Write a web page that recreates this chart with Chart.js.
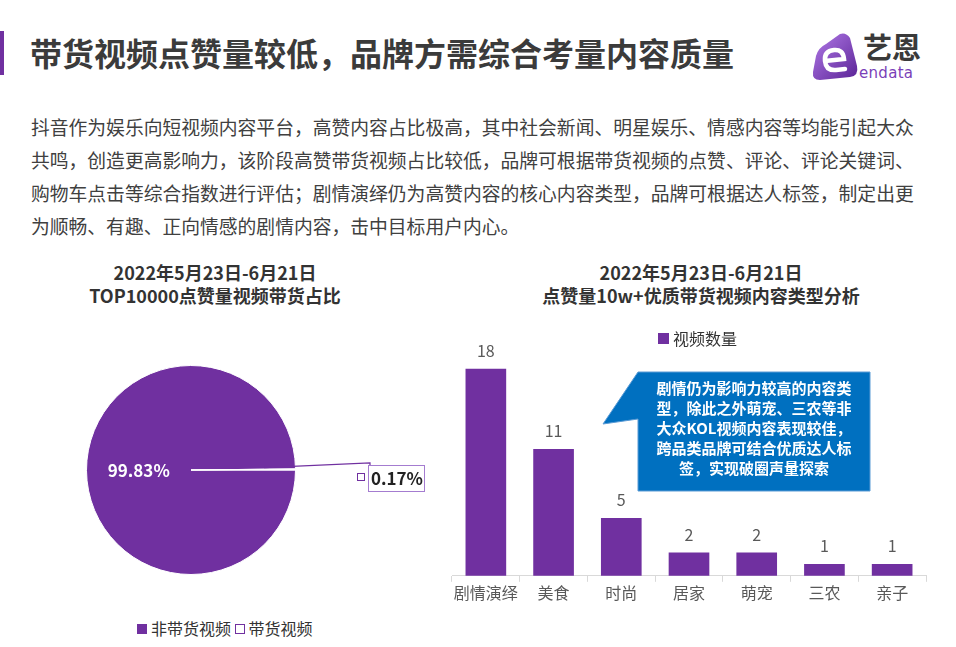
<!DOCTYPE html>
<html><head><meta charset="utf-8">
<script src="https://cdn.jsdelivr.net/npm/chart.js@4"></script>
<style>
html,body{margin:0;padding:0;background:#fff;}
body{width:956px;height:647px;position:relative;overflow:hidden;font-family:"Noto Sans CJK SC","Noto Sans",sans-serif;}
.abs{position:absolute;}
#bar{left:0;top:31px;width:4px;height:44px;background:#7030A0;}
#title{left:30px;top:30px;font-size:32px;font-weight:700;color:#3b3b3b;line-height:44px;white-space:nowrap;letter-spacing:0px;}
#para{left:31px;top:110px;font-size:18.8px;color:#404040;line-height:33px;white-space:nowrap;}
.ctitle{font-size:18px;font-weight:700;color:#333;line-height:23px;text-align:center;white-space:nowrap;}
#lt{left:15px;top:261px;width:400px;}
#rt{left:501px;top:261px;width:400px;}
.leg{font-size:16px;color:#333;white-space:nowrap;line-height:20px;}
.sq{display:inline-block;width:10px;height:10px;vertical-align:middle;margin-right:4px;position:relative;top:-2px;box-sizing:border-box;}
#ctext{left:638px;top:378px;width:232px;text-align:center;color:#fff;font-weight:700;font-size:15px;line-height:20px;white-space:nowrap;}
#logotxt{left:863px;top:27px;font-size:29px;font-weight:700;color:#3a3a3a;line-height:38px;letter-spacing:0px;}
#logoen{left:859px;top:64px;font-size:15px;color:#7a3fb8;line-height:18px;font-family:"DejaVu Sans",sans-serif;letter-spacing:0.3px;}
</style></head>
<body>
<div id="bar" class="abs"></div>
<div id="title" class="abs">带货视频点赞量较低，品牌方需综合考量内容质量</div>

<svg class="abs" style="left:810px;top:30px" width="50" height="52" viewBox="0 0 50 52">
 <defs><linearGradient id="lg" x1="0" y1="0" x2="1" y2="1">
  <stop offset="0" stop-color="#b27ae8"/><stop offset="1" stop-color="#5a2396"/></linearGradient></defs>
 <path d="M30 4 Q36 2 40 8 L47 36 Q49 46 40 47 L10 50 Q2 50 3 42 L6 26 Q8 18 16 14 Z" fill="url(#lg)"/>
 <path d="M15 31 L34 29 Q33 19 24 20 Q14 21 15 31 Q16 41 26 40 L35 39" fill="none" stroke="#fff" stroke-width="4.5" stroke-linecap="round"/>
</svg>
<div id="logotxt" class="abs">艺恩</div>
<div id="logoen" class="abs">endata</div>

<div id="para" class="abs">抖音作为娱乐向短视频内容平台，高赞内容占比极高，其中社会新闻、明星娱乐、情感内容等均能引起大众<br>共鸣，创造更高影响力，该阶段高赞带货视频占比较低，品牌可根据带货视频的点赞、评论、评论关键词、<br>购物车点击等综合指数进行评估；剧情演绎仍为高赞内容的核心内容类型，品牌可根据达人标签，制定出更<br>为顺畅、有趣、正向情感的剧情内容，击中目标用户内心。</div>

<div id="lt" class="abs ctitle">2022年5月23日-6月21日<br>TOP10000点赞量视频带货占比</div>
<div id="rt" class="abs ctitle">2022年5月23日-6月21日<br>点赞量10w+优质带货视频内容类型分析</div>

<canvas id="pie" class="abs" style="left:60px;top:340px" width="380" height="260"></canvas>
<canvas id="bars" class="abs" style="left:440px;top:330px" width="500" height="280"></canvas>

<div class="abs leg" style="left:137px;top:618px"><span class="sq" style="background:#7030A0"></span>非带货视频 <span class="sq" style="border:1.5px solid #7030A0;background:#fff"></span>带货视频</div>
<div class="abs leg" style="left:658px;top:328px"><span class="sq" style="background:#7030A0;width:11px;height:11px"></span>视频数量</div>

<svg class="abs" style="left:0;top:0" width="956" height="647" pointer-events="none">
 <polygon points="638,372 870,372 870,491 638,491 638,419 603,424 638,372" fill="#0070C0" stroke="#5b9bd5" stroke-width="1"/>
</svg>
<div id="ctext" class="abs">剧情仍为影响力较高的内容类<br>型，除此之外萌宠、三农等非<br>大众KOL视频内容表现较佳，<br>跨品类品牌可结合优质达人标<br>签，实现破圈声量探索</div>

<script>
// ---- data ----
const pieLabels = ["非带货视频", "带货视频"];
const pieValues = [99.83, 0.17];
const barCategories = ["剧情演绎", "美食", "时尚", "居家", "萌宠", "三农", "亲子"];
const barValues = [18, 11, 5, 2, 2, 1, 1];
const barSeriesName = "视频数量";

const PURPLE = "#7030A0";
const FONT = '"Noto Sans CJK SC","Noto Sans",sans-serif';

const pieLabelPlugin = {
  id: "pieLabels",
  afterDatasetsDraw(chart) {
    const ctx = chart.ctx;
    const meta = chart.getDatasetMeta(0);
    const a0 = meta.data[0], a1 = meta.data[1];
    ctx.save();
    let mid = (a0.startAngle + a0.endAngle) / 2;
    let r = a0.outerRadius * 0.5;
    ctx.fillStyle = "#fff";
    ctx.font = "600 17px " + FONT;
    ctx.textAlign = "center"; ctx.textBaseline = "middle";
    ctx.fillText(pieValues[0].toFixed(2) + "%", a0.x + Math.cos(mid) * r, a0.y + Math.sin(mid) * r);
    mid = (a1.startAngle + a1.endAngle) / 2;
    r = a1.outerRadius * 0.7;
    const sx = a1.x + Math.cos(mid) * r, sy = a1.y + Math.sin(mid) * r - 2;
    const ex = 310, ey = 123;
    ctx.strokeStyle = PURPLE; ctx.lineWidth = 1.2;
    ctx.beginPath(); ctx.moveTo(sx, sy); ctx.lineTo(ex, ey); ctx.lineTo(ex, ey + 2); ctx.stroke();
    ctx.strokeStyle = "#a47cd0"; ctx.lineWidth = 1;
    ctx.strokeRect(308.5, 125.5, 56, 26);
    ctx.strokeStyle = PURPLE;
    ctx.strokeRect(297.5, 133.5, 7, 7);
    ctx.fillStyle = "#222";
    ctx.font = "700 17px " + FONT;
    ctx.fillText(pieValues[1].toFixed(2) + "%", 337, 139);
    ctx.restore();
  }
};

new Chart(document.getElementById("pie"), {
  type: "pie",
  data: { labels: pieLabels, datasets: [{ data: pieValues, backgroundColor: [PURPLE, "#ffffff"], borderColor: ["#ffffff", "#ffffff"], borderWidth: 1 }] },
  options: {
    responsive: false, animation: false, rotation: 90,
    layout: { padding: { left: 26, top: 25, right: 144, bottom: 25 } },
    plugins: { legend: { display: false }, tooltip: { enabled: false } }
  },
  plugins: [pieLabelPlugin]
});

const barLabelPlugin = {
  id: "barLabels",
  afterDatasetsDraw(chart) {
    const ctx = chart.ctx;
    const meta = chart.getDatasetMeta(0);
    ctx.save();
    ctx.fillStyle = "#595959";
    ctx.font = "16px " + FONT;
    ctx.textAlign = "center"; ctx.textBaseline = "middle";
    meta.data.forEach((el, i) => ctx.fillText(String(barValues[i]), el.x, el.y - 18));
    ctx.restore();
  }
};

new Chart(document.getElementById("bars"), {
  type: "bar",
  data: { labels: barCategories, datasets: [{ label: barSeriesName, data: barValues, backgroundColor: PURPLE, barThickness: 40 }] },
  options: {
    responsive: false, animation: false,
    layout: { padding: { left: 12, right: 14, top: 16, bottom: 5 } },
    scales: {
      x: {
        grid: { display: true, drawOnChartArea: false, offset: true, tickLength: 6, color: "#d9d9d9" },
        border: { display: true, color: "#d9d9d9" },
        ticks: { color: "#595959", font: { size: 16, family: FONT }, padding: 2, maxRotation: 0, minRotation: 0, autoSkip: false }
      },
      y: { display: false, min: 0, max: 20 }
    },
    plugins: { legend: { display: false }, tooltip: { enabled: false } }
  },
  plugins: [barLabelPlugin]
});
</script>
</body></html>
